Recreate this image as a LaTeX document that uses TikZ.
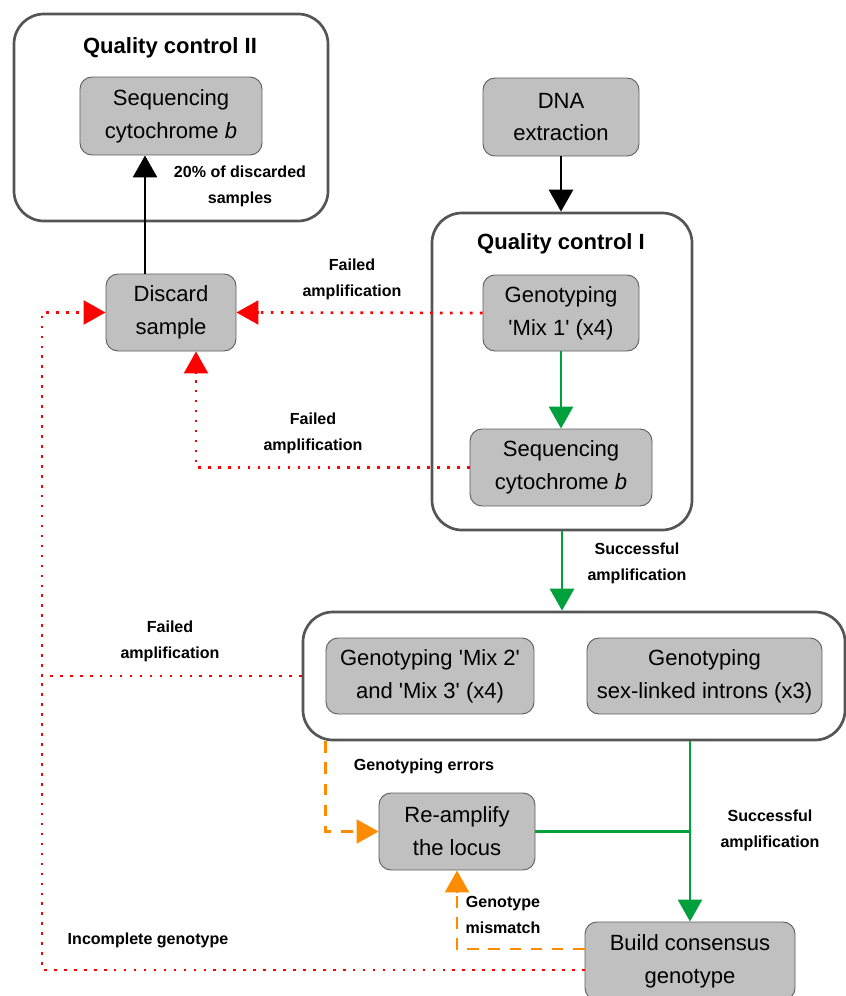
\documentclass[tikz,border=0pt]{standalone}
\usepackage{fontspec}
\setmainfont{Liberation Sans}
\usetikzlibrary{arrows.meta,calc}
\definecolor{boxfill}{RGB}{192,192,192}
\definecolor{boxline}{RGB}{95,95,95}
\definecolor{frameline}{RGB}{85,85,85}
\definecolor{myred}{RGB}{255,0,0}
\definecolor{mygreen}{RGB}{0,160,60}
\definecolor{myorange}{RGB}{255,140,0}
\newcommand{\sq}{\textquotesingle}
\begin{document}
\begin{tikzpicture}[x=0.03cm,y=-0.03cm,
  box/.style={draw=boxline, line width=0.8pt, fill=boxfill, rounded corners=0.36cm, align=center,
    font=\fontsize{18.8}{28}\selectfont, inner sep=0pt},
  frame/.style={draw=frameline, line width=2.3pt, rounded corners=0.9cm, inner sep=0pt},
  title/.style={font=\fontsize{18.8}{24}\selectfont\bfseries},
  lab/.style={font=\fontsize{13.7}{22}\selectfont\bfseries, align=center},
  tip/.style={-{Triangle[length=0.66cm,width=0.72cm]}},
  blk/.style={line width=2.5pt, draw=black, tip},
  grn/.style={line width=2.5pt, draw=mygreen},
  reddot/.style={draw=myred, line width=2.3pt, dash pattern=on 2.2pt off 6.3pt},
  orn/.style={draw=myorange, line width=2.4pt, dash pattern=on 10pt off 8pt}
]
\useasboundingbox (0,0) rectangle (846,996);
% frames
\node[frame, minimum width=9.42cm, minimum height=6.21cm] (qcb) at (171,117.5) {};
\node[frame, minimum width=7.8cm, minimum height=9.51cm] (qca) at (562,371.5) {};
\node[frame, minimum width=16.26cm, minimum height=3.84cm] (big) at (574,676) {};
% titles
\node[title] (t2) at (170,48) {Quality control II};
\node[title] (t1) at (561,244) {Quality control I};
% boxes
\node[box, minimum width=5.46cm, minimum height=2.34cm] (seq2) at (171,116) {Sequencing\\cytochrome \textit{b}};
\node[box, minimum width=4.68cm, minimum height=2.34cm] (dna) at (561,117) {DNA\\extraction};
\node[box, minimum width=4.68cm, minimum height=2.28cm] (mix1) at (561,313) {Genotyping\\\sq Mix 1\sq{} (x4)};
\node[box, minimum width=5.46cm, minimum height=2.31cm] (seq1) at (561,467.5) {Sequencing\\cytochrome \textit{b}};
\node[box, minimum width=3.9cm, minimum height=2.31cm] (discard) at (171,312.5) {Discard\\sample};
\node[box, minimum width=6.24cm, minimum height=2.28cm] (mix23) at (430,676) {Genotyping \sq Mix 2\sq\\and \sq Mix 3\sq{} (x4)};
\node[box, minimum width=7.05cm, minimum height=2.28cm] (sex) at (704.5,676) {Genotyping\\sex-linked introns (x3)};
\node[box, minimum width=4.68cm, minimum height=2.31cm] (reamp) at (457,831.5) {Re-amplify\\the locus};
\node[box, minimum width=6.3cm, minimum height=2.34cm] (cons) at (690,961) {Build consensus\\genotype};
% labels
\node[lab] (l20) at (240,186) {20\% of discarded\\samples};
\node[lab] (lf1) at (352,279) {Failed\\amplification};
\node[lab] (lf2) at (313,433) {Failed\\amplification};
\node[lab] (ls1) at (637,563) {Successful\\amplification};
\node[lab] (lf3) at (170,641) {Failed\\amplification};
\node[lab] (lge) at (424,766) {Genotyping errors};
\node[lab] (ls2) at (770,830) {Successful\\amplification};
\node[lab] (lgm) at (503,915) {Genotype\\mismatch};
\node[lab] (lig) at (148,940) {Incomplete genotype};
% connectors
\coordinate (lcorner) at (42,676);
\draw[blk] (dna.south) -- (dna.south |- qca.north);
\draw[blk] ($(discard.north)+(-26,0)$) -- ($(seq2.south)+(-26,0)$);
\draw[grn, tip] (mix1.south) -- (seq1.north);
\draw[grn, tip] (qca.south) -- (qca.south |- big.north);
\draw[grn, tip] (cons.north |- big.south) -- (cons.north);
\draw[grn] (reamp.east) -- (reamp.east -| cons.north);
\draw[reddot] (mix1.west) -- ($(discard.east)+(22,0)$);
\draw[reddot] (seq1.west) -| ($(discard.south)+(25,22)$);
\draw[reddot] (big.west) -- (lcorner) |- ($(discard.west)+(-22,0)$);
\draw[reddot] ($(cons.west)+(0,9)$) -| (lcorner);
\draw[orn] (mix23.west |- big.south) |- ($(reamp.west)+(-22,0)$);
\draw[orn] ($(cons.west)+(0,-12)$) -| ($(reamp.south)+(0,22)$);
% arrow heads
\draw[draw=myred, line width=2pt, tip] ($(discard.east)+(22,0)$) -- (discard.east);
\draw[draw=myred, line width=2pt, tip] ($(discard.south)+(25,22)$) -- ($(discard.south)+(25,0)$);
\draw[draw=myred, line width=2pt, tip] ($(discard.west)+(-22,0)$) -- (discard.west);
\draw[draw=myorange, line width=2pt, tip] ($(reamp.west)+(-22,0)$) -- (reamp.west);
\draw[draw=myorange, line width=2pt, tip] ($(reamp.south)+(0,22)$) -- (reamp.south);
\end{tikzpicture}
\end{document}
